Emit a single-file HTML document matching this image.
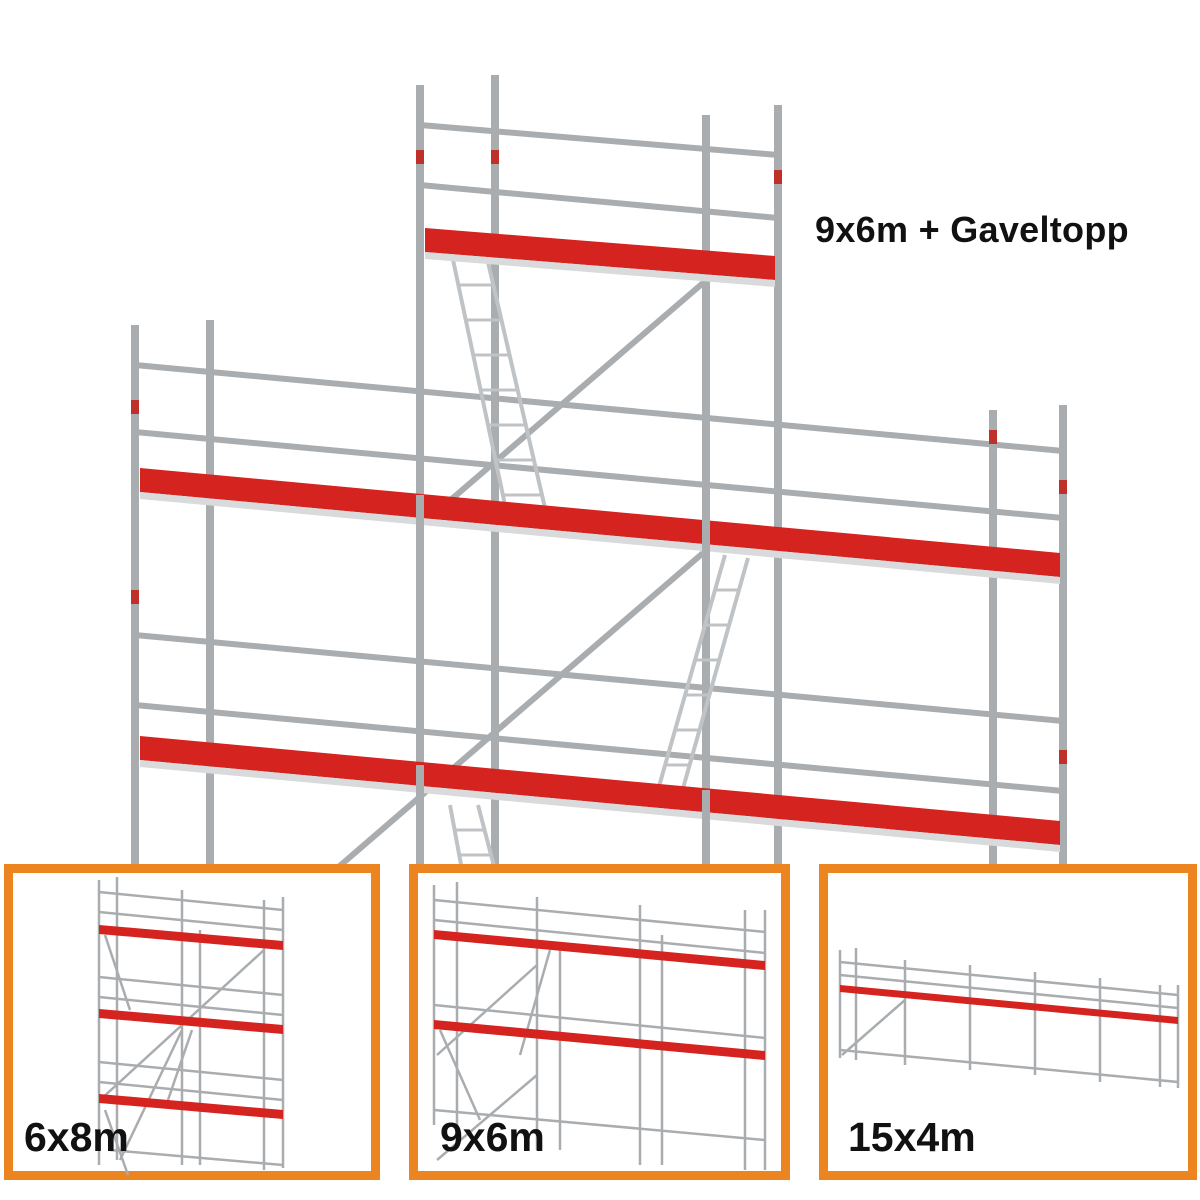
<!DOCTYPE html>
<html><head><meta charset="utf-8"><style>
html,body{margin:0;padding:0;background:#fff;}
.w{position:relative;width:1200px;height:1200px;overflow:hidden;font-family:"Liberation Sans",Arial,sans-serif;}
.lbl{position:absolute;font-weight:bold;color:#111;}
</style></head><body><div class="w">
<svg width="1200" height="1200" viewBox="0 0 1200 1200" style="position:absolute;left:0;top:0">
<g stroke="#a9adb0" stroke-linecap="butt" fill="none">
<g stroke-width="6">
<line x1="135" y1="365" x2="1063" y2="451"/>
<line x1="135" y1="432" x2="1063" y2="518"/>
<line x1="135" y1="635" x2="1063" y2="721"/>
<line x1="135" y1="705" x2="1063" y2="791"/>
<line x1="420" y1="125" x2="778" y2="155"/>
<line x1="420" y1="185" x2="778" y2="218"/>
</g>
<g stroke-width="8">
<line x1="135" y1="325" x2="135" y2="870"/>
<line x1="210" y1="320" x2="210" y2="870"/>
<line x1="420" y1="85" x2="420" y2="870"/>
<line x1="495" y1="75" x2="495" y2="870"/>
<line x1="706" y1="115" x2="706" y2="870"/>
<line x1="778" y1="105" x2="778" y2="870"/>
<line x1="993" y1="410" x2="993" y2="870"/>
<line x1="1063" y1="405" x2="1063" y2="870"/>
</g>
<g stroke-width="6">
<line x1="703" y1="283" x2="425" y2="522"/>
<line x1="703" y1="553" x2="335" y2="870"/>
</g>
<g stroke="#bfc3c5" stroke-width="4">
<line x1="452" y1="255" x2="505" y2="505"/><line x1="488" y1="262" x2="545" y2="508"/>
<line x1="725" y1="555" x2="658" y2="790"/><line x1="748" y1="558" x2="682" y2="792"/>
<line x1="450" y1="805" x2="462" y2="870"/><line x1="478" y1="805" x2="495" y2="870"/>
</g>
<g stroke="#bfc3c5" stroke-width="3">
<line x1="458" y1="285" x2="492" y2="285"/><line x1="466" y1="320" x2="500" y2="320"/><line x1="473" y1="355" x2="508" y2="355"/><line x1="481" y1="390" x2="516" y2="390"/><line x1="488" y1="425" x2="524" y2="425"/><line x1="496" y1="460" x2="532" y2="460"/><line x1="503" y1="495" x2="540" y2="495"/>
<line x1="716" y1="590" x2="740" y2="590"/><line x1="706" y1="625" x2="730" y2="625"/><line x1="696" y1="660" x2="720" y2="660"/><line x1="686" y1="695" x2="710" y2="695"/><line x1="676" y1="730" x2="700" y2="730"/><line x1="666" y1="765" x2="690" y2="765"/>
<line x1="454" y1="830" x2="484" y2="830"/><line x1="458" y1="855" x2="490" y2="855"/>
</g>
</g>
<g>
<polygon points="140,468 1060,553 1060,577 140,492" fill="#d5231f"/>
<polygon points="140,492 1060,577 1060,584 140,499" fill="#d8dadb"/>
<polygon points="140,736 1060,821 1060,845 140,760" fill="#d5231f"/>
<polygon points="140,760 1060,845 1060,852 140,767" fill="#d8dadb"/>
<polygon points="425,228 775,256 775,280 425,252" fill="#d5231f"/>
<polygon points="425,252 775,280 775,287 425,259" fill="#d8dadb"/>
</g>
<g stroke="#a9adb0" stroke-width="8">
<line x1="420" y1="495" x2="420" y2="525"/><line x1="706" y1="520" x2="706" y2="555"/><line x1="706" y1="790" x2="706" y2="825"/><line x1="420" y1="765" x2="420" y2="795"/>
</g>
<g fill="#c0302a">
<rect x="131" y="400" width="8" height="14"/><rect x="131" y="590" width="8" height="14"/><rect x="416" y="150" width="8" height="14"/><rect x="491" y="150" width="8" height="14"/><rect x="774" y="170" width="8" height="14"/><rect x="1059" y="480" width="8" height="14"/><rect x="1059" y="750" width="8" height="14"/><rect x="989" y="430" width="8" height="14"/>
</g>
<g fill="#fff" stroke="#ec8420" stroke-width="9">
<rect x="8.5" y="868.5" width="367" height="307"/>
<rect x="413.5" y="868.5" width="372" height="307"/>
<rect x="823.5" y="868.5" width="369" height="307"/>
</g>
<g stroke="#a9adb0" stroke-width="2.5">
<line x1="99" y1="880" x2="99" y2="1165"/><line x1="117" y1="877" x2="117" y2="1160"/><line x1="182" y1="890" x2="182" y2="1165"/><line x1="200" y1="930" x2="200" y2="1165"/><line x1="264" y1="900" x2="264" y2="1170"/><line x1="283" y1="897" x2="283" y2="1168"/>
<line x1="99" y1="892" x2="283" y2="910"/><line x1="99" y1="912" x2="283" y2="930"/>
<line x1="99" y1="977" x2="283" y2="995"/><line x1="99" y1="997" x2="283" y2="1015"/>
<line x1="99" y1="1062" x2="283" y2="1080"/><line x1="99" y1="1082" x2="283" y2="1100"/>
<line x1="264" y1="950" x2="100" y2="1100"/><line x1="182" y1="1030" x2="120" y2="1160"/>
<line x1="105" y1="935" x2="130" y2="1010"/><line x1="192" y1="1030" x2="168" y2="1100"/><line x1="105" y1="1110" x2="128" y2="1175"/>
<line x1="110" y1="1150" x2="283" y2="1165"/>
</g>
<g fill="#d5231f">
<polygon points="99,925 283,941 283,950 99,934"/>
<polygon points="99,1009 283,1025 283,1034 99,1018"/>
<polygon points="99,1094 283,1110 283,1119 99,1103"/>
</g>
<g stroke="#a9adb0" stroke-width="2.5">
<line x1="434" y1="885" x2="434" y2="1125"/><line x1="457" y1="882" x2="457" y2="1135"/><line x1="537" y1="897" x2="537" y2="1150"/><line x1="560" y1="945" x2="560" y2="1150"/><line x1="640" y1="905" x2="640" y2="1165"/><line x1="662" y1="935" x2="662" y2="1165"/><line x1="745" y1="910" x2="745" y2="1170"/><line x1="765" y1="910" x2="765" y2="1170"/>
<line x1="434" y1="900" x2="765" y2="932"/><line x1="434" y1="920" x2="765" y2="953"/>
<line x1="434" y1="1005" x2="765" y2="1038"/><line x1="434" y1="1025" x2="765" y2="1058"/>
<line x1="537" y1="965" x2="437" y2="1055"/><line x1="537" y1="1075" x2="437" y2="1160"/>
<line x1="440" y1="1030" x2="480" y2="1120"/><line x1="550" y1="950" x2="520" y2="1055"/>
<line x1="434" y1="1110" x2="765" y2="1140"/>
</g>
<g fill="#d5231f">
<polygon points="434,930 765,961 765,970 434,939"/>
<polygon points="434,1020 765,1051 765,1060 434,1029"/>
</g>
<g stroke="#a9adb0" stroke-width="2.5">
<line x1="840" y1="950" x2="840" y2="1058"/><line x1="856" y1="948" x2="856" y2="1060"/><line x1="905" y1="960" x2="905" y2="1065"/><line x1="970" y1="965" x2="970" y2="1070"/><line x1="1035" y1="972" x2="1035" y2="1075"/><line x1="1100" y1="978" x2="1100" y2="1082"/><line x1="1160" y1="985" x2="1160" y2="1087"/><line x1="1178" y1="985" x2="1178" y2="1088"/>
<line x1="840" y1="962" x2="1178" y2="995"/><line x1="840" y1="975" x2="1178" y2="1008"/>
<line x1="840" y1="1050" x2="1178" y2="1082"/><line x1="905" y1="1000" x2="842" y2="1055"/>
</g>
<polygon points="840,985 1178,1017 1178,1024 840,992" fill="#d5231f"/>
</svg>
<div class="lbl" style="left:815px;top:209px;font-size:36px;letter-spacing:0.3px;">9x6m + Gaveltopp</div>
<div class="lbl" style="left:24px;top:1114px;font-size:41px;">6x8m</div>
<div class="lbl" style="left:440px;top:1114px;font-size:41px;">9x6m</div>
<div class="lbl" style="left:848px;top:1114px;font-size:41px;">15x4m</div>
</div></body></html>
